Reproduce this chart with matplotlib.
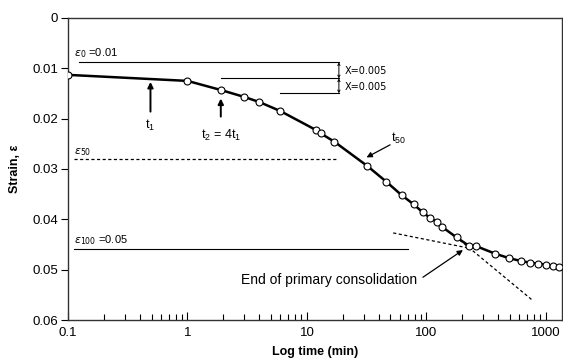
import matplotlib.pyplot as plt
import numpy as np

plt.rcParams['font.family'] = ['Liberation Sans', 'DejaVu Sans']
plt.rcParams['mathtext.fontset'] = 'dejavusans'

# consolidation test points (time in min, strain)
time_min = [0.1, 1, 1.9, 3, 4, 6, 12, 13, 17, 32, 46, 62, 78, 93, 107, 122, 135,
            179, 228, 259, 374, 490, 623, 733, 860, 1001, 1156, 1296]
strain = [0.0113, 0.0125, 0.0143, 0.0157, 0.0167, 0.0185, 0.0223, 0.0229, 0.0246,
          0.0294, 0.0325, 0.0352, 0.0370, 0.0386, 0.0397, 0.0405, 0.0415,
          0.0436, 0.0453, 0.0453, 0.0468, 0.0477, 0.0483, 0.0486, 0.0488,
          0.0490, 0.0492, 0.0494]

# construction lines
eps0_line = [0.0088, 0.124, 18.5]
x_lines = [(0.0120, 1.9, 18.5), (0.01497, 5.9, 18.5)]
eps50_line = [0.0281, 0.112, 17.7]
eps100_line = [0.0458, 0.112, 70]
tangent_secondary = ([52.7, 225], [0.0427, 0.0457])
tangent_primary = ([190, 783], [0.0441, 0.0562])

yticks = [0, 0.01, 0.02, 0.03, 0.04, 0.05, 0.06]
ytick_labels = ['0', '0.01', '0.02', '0.03', '0.04', '0.05', '0.06']
xticks = [0.1, 1, 10, 100, 1000]
xtick_labels = ['0.1', '1', '10', '100', '1000']

fig = plt.figure(figsize=(5.63, 3.59), dpi=100)
ax = fig.add_axes([0.1208, 0.1086, 0.8772, 0.8413])

ax.set_xscale('log')
ax.set_xlim(0.1, 1360)
ax.set_ylim(0.06, 0)

# lines behind the curve
ax.plot([eps0_line[1], eps0_line[2]], [eps0_line[0]] * 2, color='k', lw=0.8)
for yv, x0, x1 in x_lines:
    ax.plot([x0, x1], [yv, yv], color='k', lw=0.8)
ax.plot([eps50_line[1], eps50_line[2]], [eps50_line[0]] * 2, color='k', lw=0.9,
        dashes=(2.5, 2))
ax.plot([eps100_line[1], eps100_line[2]], [eps100_line[0]] * 2, color='k', lw=0.8)
ax.plot(tangent_secondary[0], tangent_secondary[1], color='k', lw=0.9, dashes=(2.5, 2))
ax.plot(tangent_primary[0], tangent_primary[1], color='k', lw=0.9, dashes=(2.5, 2))

# bracket arrows
ax.annotate('', xy=(18.5, eps0_line[0]), xytext=(18.5, x_lines[0][0]),
            arrowprops=dict(arrowstyle='<->', lw=0.7, mutation_scale=4, shrinkA=0, shrinkB=0))
ax.annotate('', xy=(18.5, x_lines[0][0]), xytext=(18.5, x_lines[1][0]),
            arrowprops=dict(arrowstyle='<->', lw=0.7, mutation_scale=4, shrinkA=0, shrinkB=0))
ax.text(20.5, 0.0105, 'X=0.005', fontsize=7, family='DejaVu Sans', va='center')
ax.text(20.8, 0.0138, 'X=0.005', fontsize=7, family='DejaVu Sans', va='center')

# main curve
ax.plot(time_min, strain, color='k', lw=1.8, zorder=3)
ax.plot(time_min, strain, 'o', ms=5, mfc='white', mec='k', mew=0.8, zorder=4)

# labels
ax.text(0.112, 0.0070, r'$\varepsilon_0$ =0.01', fontsize=8, va='center')
ax.text(0.112, 0.0266, r'$\varepsilon_{50}$', fontsize=8, va='center')
ax.text(0.112, 0.0442, r'$\varepsilon_{100}$ =0.05', fontsize=8, va='center')

arrow = dict(arrowstyle='-|>', lw=1.4, color='k', mutation_scale=8, shrinkA=0, shrinkB=0)
ax.annotate('', xy=(0.49, 0.0127), xytext=(0.49, 0.0186), arrowprops=arrow)
ax.text(0.49, 0.0213, r'$\mathregular{t_1}$', fontsize=9, ha='center', va='center')
ax.annotate('', xy=(1.9, 0.0160), xytext=(1.9, 0.0196), arrowprops=arrow)
ax.text(1.9, 0.0233, r'$\mathregular{t_2}$ = 4$\mathregular{t_1}$', fontsize=9,
        ha='center', va='center')
ax.annotate('', xy=(31.5, 0.0277), xytext=(49.6, 0.0252),
            arrowprops=dict(arrowstyle='-|>', lw=0.9, color='k', mutation_scale=8,
                            shrinkA=0, shrinkB=0))
ax.text(58, 0.0239, r'$\mathregular{t_{50}}$', fontsize=9, ha='center', va='center')
ax.annotate('', xy=(202, 0.0461), xytext=(93.5, 0.0515),
            arrowprops=dict(arrowstyle='-|>', lw=0.9, color='k', mutation_scale=8,
                            shrinkA=0, shrinkB=0))
ax.text(15.4, 0.0521, 'End of primary consolidation', fontsize=10, ha='center', va='center')

ax.set_xticks(xticks)
ax.set_xticklabels(xtick_labels)
ax.set_yticks(yticks)
ax.set_yticklabels(ytick_labels)
ax.tick_params(axis='x', which='major', direction='in', length=6, width=0.8,
               labelsize=9.5, pad=5)
ax.tick_params(axis='x', which='minor', direction='in', length=4, width=0.8)
ax.tick_params(axis='y', direction='out', length=5, width=0.8, labelsize=9.5, pad=2)
for s in ax.spines.values():
    s.set_linewidth(1.0)
    s.set_color('#333333')

ax.set_xlabel('Log time (min)', fontsize=9, fontweight='bold', labelpad=5)
ax.set_ylabel('Strain, ε', fontsize=9, fontweight='bold', labelpad=8)

fig.savefig('out.png', dpi=100)
